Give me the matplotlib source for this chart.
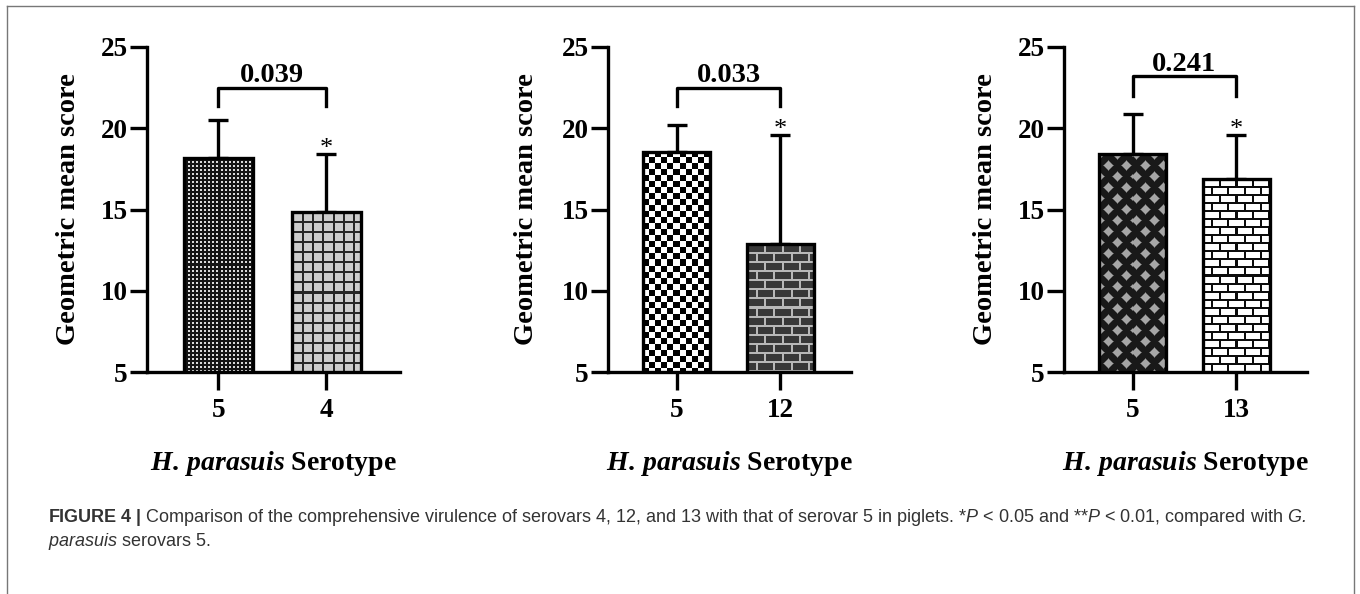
import numpy as np
import matplotlib
matplotlib.use('Agg')
import matplotlib.pyplot as plt
from matplotlib.lines import Line2D

plt.rcParams['font.family'] = ['Liberation Serif', 'DejaVu Serif']
plt.rcParams['font.weight'] = 'bold'
plt.rcParams['mathtext.fontset'] = 'custom'
plt.rcParams['mathtext.it'] = 'Liberation Serif:style=italic:weight=bold'
plt.rcParams['mathtext.rm'] = 'Liberation Serif:weight=bold'
plt.rcParams['mathtext.bf'] = 'Liberation Sans:weight=bold'
plt.rcParams['mathtext.sf'] = 'Liberation Sans:style=italic:weight=normal'

# ___data___
cats_4 = ['5', '4']
means_4 = [18.2, 14.85]
sd_4 = [2.3, 3.55]
p_4 = '0.039'

cats_12 = ['5', '12']
means_12 = [18.55, 12.9]
sd_12 = [1.65, 6.7]
p_12 = '0.033'

cats_13 = ['5', '13']
means_13 = [18.4, 16.9]
sd_13 = [2.5, 2.7]
p_13 = '0.241'

# bracket heights (top, leg end) per panel
brackets = [(22.5, 21.4), (22.5, 21.4), (23.2, 22.0)]
y_ticks = [5, 10, 15, 20, 25]


def texture(kind, w, h):
    # fill patterns drawn in screen pixels
    yy, xx = np.mgrid[0:h, 0:w]
    if kind == 'dots':
        light = (xx % 4 < 2) & (yy % 4 < 2)
        img = np.where(light, 0.85, 0.08)
    elif kind == 'grid':
        line = (xx % 10 < 2) | (yy % 10 < 2)
        img = np.where(line, 0.15, 0.8)
    elif kind == 'checker':
        img = np.where(((xx // 6) + (yy // 6)) % 2 == 0, 0.0, 1.0)
    elif kind == 'brick_dark':
        row = yy // 9
        mortar = (yy % 9 < 2) | ((xx + (row % 2) * 8) % 17 < 2)
        img = np.where(mortar, 0.72, 0.22)
    elif kind == 'diamond':
        ux = np.abs(xx % 18 - 9) + np.abs(yy % 22 - 11)
        uy = np.abs((xx + 9) % 18 - 9) + np.abs((yy + 11) % 22 - 11)
        d = np.minimum(ux, uy)
        img = np.clip((6.0 - d) / 2.0, 0, 1) * 0.55 + 0.1
    else:  # brick_white
        row = yy // 8
        mortar = (yy % 8 < 2) | ((xx + (row % 2) * 8) % 16 < 2)
        img = np.where(mortar, 0.05, 1.0)
    return img


fig = plt.figure(figsize=(13.6, 5.94), dpi=100)
W, H = 1360, 594

panels = [
    (147, 253, cats_4, means_4, sd_4, p_4, ('dots', 'grid'), -0.26),
    (608, 243, cats_12, means_12, sd_12, p_12, ('checker', 'brick_dark'), -0.284),
    (1064, 243, cats_13, means_13, sd_13, p_13, ('diamond', 'brick_white'), -0.272),
]

for i, (left, width, cats, means, sd, p, kinds, ylab_x) in enumerate(panels):
    ax = fig.add_axes([left / W, 222 / H, width / W, 325 / H])
    x = np.arange(len(cats))
    xlim = (-0.66, 1.68)
    ax.set_xlim(*xlim)
    ax.set_ylim(5, 25)
    bars = ax.bar(x, means, width=0.64, facecolor='none', edgecolor='black',
                  linewidth=2.4, zorder=3)
    for b, kind in zip(bars, kinds):
        x0, x1 = b.get_x(), b.get_x() + b.get_width()
        y0, y1 = 5, b.get_height()
        (px0, py0), (px1, py1) = ax.transData.transform([(x0, y0), (x1, y1)])
        img = texture(kind, max(int(round(px1 - px0)), 1), max(int(round(py1 - py0)), 1))
        im = ax.imshow(img, cmap='gray', vmin=0, vmax=1, extent=(x0, x1, y0, y1),
                       interpolation='nearest', aspect='auto', origin='upper', zorder=2)
        im.set_clip_path(b)
    ax.set_xlim(*xlim)
    ax.set_ylim(5, 25)
    ax.errorbar(x, means, yerr=[np.zeros(len(sd)), sd], fmt='none', ecolor='black',
                elinewidth=2.4, capsize=7, capthick=2.4, zorder=1)
    # significance bracket
    top, leg = brackets[i]
    ax.plot([0, 0, 1, 1], [leg, top, top, leg], color='black', lw=2.4, clip_on=False)
    ax.text(0.5, top + 0.35, p, ha='center', va='baseline', fontsize=20.5, clip_on=False)
    ax.text(1, means[1] + sd[1] - 0.05, '*', ha='center', va='baseline', fontsize=19,
            fontweight='normal')

    for s in ['top', 'right']:
        ax.spines[s].set_visible(False)
    for s in ['left', 'bottom']:
        ax.spines[s].set_linewidth(2.4)
    ax.set_yticks(y_ticks)
    ax.set_xticks(x)
    ax.set_xticklabels(cats)
    ax.tick_params(axis='y', length=12, width=2.4, pad=2, labelsize=19.5)
    ax.tick_params(axis='x', length=13, width=2.4, pad=6, labelsize=19.5)
    ax.set_ylabel('Geometric mean score', fontsize=20.5, fontweight='bold')
    ax.yaxis.set_label_coords(ylab_x, 0.5)
    ax.text(0.5, -0.28, r'$\mathit{H.\,parasuis}$ Serotype', transform=ax.transAxes,
            ha='center', va='center', fontsize=20)

# outer frame
fig.add_artist(Line2D([7 / W, 7 / W], [0, 1 - 6 / H], color='#777777', lw=1))
fig.add_artist(Line2D([7 / W, 1354 / W], [1 - 6 / H, 1 - 6 / H], color='#777777', lw=1))
fig.add_artist(Line2D([1354 / W, 1354 / W], [0, 1 - 6 / H], color='#777777', lw=1))

# caption
cap1 = (r'$\mathbf{FIGURE\ 4\ |}$ Comparison of the comprehensive virulence of serovars 4, 12, '
        r'and 13 with that of serovar 5 in piglets. *$\mathsf{P}$ < 0.05 and **$\mathsf{P}$ < 0.01, '
        r'compared with $\mathsf{G.}$')
cap2 = r'$\mathsf{parasuis}$ serovars 5.'
fig.text(48 / W, 1 - 517 / H, cap1, ha='left', va='center', fontsize=13,
         family='Liberation Sans', fontweight='normal', color='#333333')
fig.text(48 / W, 1 - 541 / H, cap2, ha='left', va='center', fontsize=13,
         family='Liberation Sans', fontweight='normal', color='#333333')

fig.savefig('out.png', dpi=100)
